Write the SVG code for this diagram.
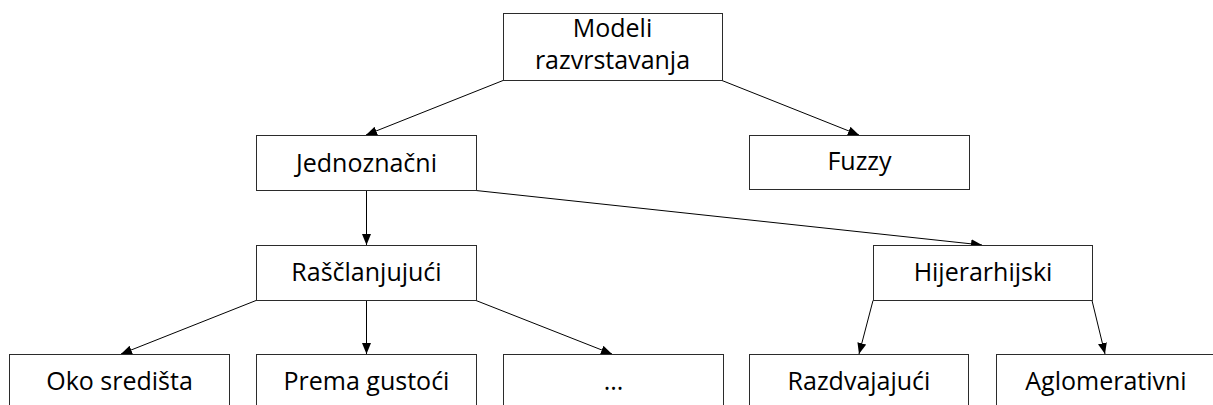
<svg xmlns="http://www.w3.org/2000/svg" width="1213" height="405" viewBox="0 0 1213 405">
  <style>
    .box { fill: #ffffff; stroke: #2b2b2b; stroke-width: 1; }
    .lbl { font-family: "Open Sans", "Noto Sans", "Liberation Sans", sans-serif; font-size: 25px; fill: #000000; text-anchor: middle; }
    .edge { stroke: #000000; stroke-width: 1; fill: none; marker-end: url(#arrow); }
  </style>
  <defs>
    <marker id="arrow" markerUnits="userSpaceOnUse" markerWidth="12" markerHeight="10" refX="11" refY="4.5" orient="auto">
      <path d="M0,0 L11,4.5 L0,9 z" fill="#000000"/>
    </marker>
  </defs>
  <rect width="1213" height="405" fill="#ffffff"/>

  <g id="connectors">
    <line class="edge" x1="503" y1="80.5" x2="366" y2="135"/>
    <line class="edge" x1="722" y1="80.5" x2="859" y2="135"/>
    <line class="edge" x1="366.5" y1="190.5" x2="366.5" y2="245"/>
    <line class="edge" x1="476" y1="190.5" x2="982" y2="245"/>
    <line class="edge" x1="256" y1="300.5" x2="121" y2="354"/>
    <line class="edge" x1="366.5" y1="300.5" x2="366.5" y2="354"/>
    <line class="edge" x1="476" y1="300.5" x2="612" y2="354"/>
    <line class="edge" x1="873" y1="300.5" x2="859" y2="354"/>
    <line class="edge" x1="1092" y1="300.5" x2="1105" y2="354"/>
  </g>

  <g id="node-modeli">
    <rect class="box" x="503.5" y="13.5" width="219" height="67"/>
    <text class="lbl" x="612.5" y="37">Modeli</text>
    <text class="lbl" x="612.5" y="69">razvrstavanja</text>
  </g>
  <g id="node-jednoznacni">
    <rect class="box" x="256.5" y="135.5" width="220" height="55"/>
    <text class="lbl" x="366.5" y="172">Jednoznačni</text>
  </g>
  <g id="node-fuzzy">
    <rect class="box" x="749.5" y="135.5" width="220" height="54"/>
    <text class="lbl" x="859.5" y="170">Fuzzy</text>
  </g>
  <g id="node-rasclanjujuci">
    <rect class="box" x="256.5" y="245.5" width="220" height="55"/>
    <text class="lbl" x="366.5" y="281">Raščlanjujući</text>
  </g>
  <g id="node-hijerarhijski">
    <rect class="box" x="873.5" y="245.5" width="219" height="55"/>
    <text class="lbl" x="983" y="281">Hijerarhijski</text>
  </g>
  <g id="node-oko-sredista">
    <rect class="box" x="9.5" y="354.5" width="220" height="55"/>
    <text class="lbl" x="119.5" y="390">Oko središta</text>
  </g>
  <g id="node-prema-gustoci">
    <rect class="box" x="256.5" y="354.5" width="220" height="55"/>
    <text class="lbl" x="366.5" y="390">Prema gustoći</text>
  </g>
  <g id="node-ostalo">
    <rect class="box" x="503.5" y="354.5" width="220" height="55"/>
    <text class="lbl" x="613.5" y="390">...</text>
  </g>
  <g id="node-razdvajajuci">
    <rect class="box" x="749.5" y="354.5" width="219" height="55"/>
    <text class="lbl" x="859" y="390">Razdvajajući</text>
  </g>
  <g id="node-aglomerativni">
    <rect class="box" x="996.5" y="354.5" width="220" height="55"/>
    <text class="lbl" x="1106" y="390">Aglomerativni</text>
  </g>
</svg>
